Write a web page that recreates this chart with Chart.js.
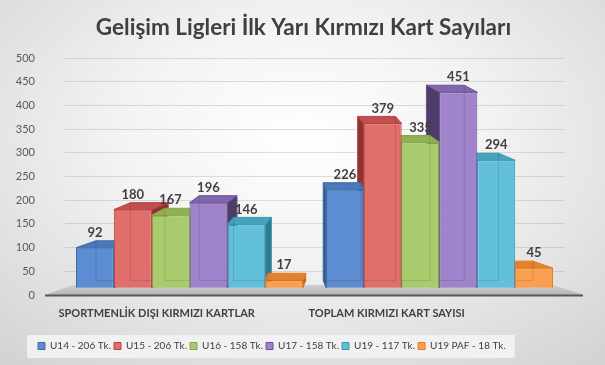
<!DOCTYPE html>
<html>
<head>
<meta charset="utf-8">
<title>Gelişim Ligleri İlk Yarı Kırmızı Kart Sayıları</title>
<script src="https://cdn.jsdelivr.net/npm/chart.js@4.4.1/dist/chart.umd.min.js"></script>
<style>
    html, body { margin: 0; padding: 0; }
    body {
        width: 605px;
        height: 365px;
        overflow: hidden;
        background: radial-gradient(ellipse 75% 80% at 50% 38%, #ffffff 0%, #f3f3f3 40%, #d3d3d3 100%);
    }
    #wrap { position: relative; width: 605px; height: 365px; }
</style>
</head>
<body>
<div id="wrap"><canvas id="redCardChart" width="605" height="365"></canvas></div>
<script>
// kategoriler ve seriler
const categories = ['SPORTMENLİK DIŞI KIRMIZI KARTLAR', 'TOPLAM KIRMIZI KART SAYISI'];
const seriesNames = ['U14 - 206 Tk.', 'U15 - 206 Tk.', 'U16 - 158 Tk.', 'U17 - 158 Tk.', 'U19 - 117 Tk.', 'U19 PAF - 18 Tk.'];
const u14 = [92, 226];
const u15 = [180, 379];
const u16 = [167, 335];
const u17 = [196, 451];
const u19 = [146, 294];
const u19paf = [17, 45];
const yTickMax = 500;
const yTickStep = 50;

// renkler: on yuz, ust yuz, yan yuz, kenar
const frontColors = ['#5c8dd2', '#e06f6c', '#a9cb6e', '#9f84cc', '#62c0da', '#fa9e50'];
const topColors = ['#4a78bb', '#c0504d', '#8fb153', '#8266b2', '#46a3be', '#e4812f'];
const sideColors = ['#37598c', '#8a3331', '#6d8a3b', '#4c3d68', '#307a8f', '#b5621f'];
const edgeColors = ['#3e6aa8', '#b9413e', '#86a84a', '#6a5290', '#3a98b3', '#e57a1e'];

const seriesValues = [u14, u15, u16, u17, u19, u19paf];
const textColor = '#404040';
const depthY = -7;

// y ekseni etiketleri sag kenari ~x=35'te olsun (mirror ile kirpilmadan)
const tickFont = '11px Lato';
const measure = document.createElement('canvas').getContext('2d');
measure.font = tickFont;
const widestTick = measure.measureText(String(yTickMax)).width;

function depthX(chart, x) {
    const area = chart.chartArea;
    const vx = (area.left + area.right) / 2;
    return (vx - x) * 0.091;
}

// zemin + 3B yan ve ust yuzler (on yuzler Chart.js cubuklari)
const bar3dPlugin = {
    id: 'bar3d',
    beforeDraw: chart => {
        const lg = chart.legend;
        if (!lg || !lg.legendHitBoxes || !lg.legendHitBoxes.length) return;
        const boxes = lg.legendHitBoxes;
        const first = boxes[0];
        const last = boxes[boxes.length - 1];
        const cy = first.top + first.height / 2;
        const ctx = chart.ctx;
        ctx.save();
        ctx.fillStyle = 'rgba(243,243,243,0.9)';
        ctx.fillRect(first.left - 11, cy - 11, (last.left + last.width + 9) - (first.left - 11), 23);
        ctx.restore();
    },
    beforeDatasetsDraw: chart => {
        const ctx = chart.ctx;
        const area = chart.chartArea;
        const front = chart.scales.yTicks.getPixelForValue(0);

        ctx.save();
        const floorGrad = ctx.createLinearGradient(0, front - 10, 0, front);
        floorGrad.addColorStop(0, '#cfcfcf');
        floorGrad.addColorStop(1, '#b4b4b4');
        ctx.beginPath();
        ctx.moveTo(area.left - 19.5, front);
        ctx.lineTo(area.right + 18.5, front);
        ctx.lineTo(area.right - 11.5, front - 10);
        ctx.lineTo(area.left + 8, front - 10);
        ctx.closePath();
        ctx.fillStyle = floorGrad;
        ctx.fill();
        ctx.beginPath();
        ctx.moveTo(area.left - 19.5, front + 0.5);
        ctx.lineTo(area.right + 18.5, front + 0.5);
        ctx.strokeStyle = '#595959';
        ctx.lineWidth = 2;
        ctx.stroke();

        const bars = [];
        chart.data.datasets.forEach((ds, i) => {
            const meta = chart.getDatasetMeta(i);
            meta.data.forEach(bar => {
                bars.push({ i, x: bar.x, y: bar.y, base: bar.base, w: bar.width, dx: depthX(chart, bar.x) });
            });
        });
        // merkezden uzak olanlar once
        bars.sort((a, b) => Math.abs(b.dx) - Math.abs(a.dx));

        bars.forEach(b => {
            const l = b.x - b.w / 2;
            const r = b.x + b.w / 2;
            const sx = b.dx > 0 ? r : l;
            ctx.beginPath();
            ctx.moveTo(sx, b.y);
            ctx.lineTo(sx + b.dx, b.y + depthY);
            ctx.lineTo(sx + b.dx, b.base + depthY);
            ctx.lineTo(sx, b.base);
            ctx.closePath();
            ctx.fillStyle = sideColors[b.i];
            ctx.fill();
            ctx.strokeStyle = edgeColors[b.i];
            ctx.lineWidth = 1;
            ctx.stroke();

            ctx.beginPath();
            ctx.moveTo(l, b.y);
            ctx.lineTo(r, b.y);
            ctx.lineTo(r + b.dx, b.y + depthY);
            ctx.lineTo(l + b.dx, b.y + depthY);
            ctx.closePath();
            ctx.fillStyle = topColors[b.i];
            ctx.fill();
            ctx.stroke();
        });
        ctx.restore();
    },
    afterDatasetsDraw: chart => {
        const ctx = chart.ctx;
        ctx.save();
        chart.data.datasets.forEach((ds, i) => {
            const meta = chart.getDatasetMeta(i);
            meta.data.forEach((bar, j) => {
                const dx = depthX(chart, bar.x);
                const bx = dx > 0 ? bar.x - bar.width / 2 + dx : bar.x + bar.width / 2 + dx;
                // arka kenar (yari saydam gorunum)
                ctx.beginPath();
                ctx.moveTo(bx, bar.y + depthY);
                ctx.lineTo(bx, bar.base + depthY);
                ctx.lineTo(dx > 0 ? bar.x + bar.width / 2 : bar.x - bar.width / 2, bar.base + depthY);
                ctx.strokeStyle = 'rgba(0,0,0,0.12)';
                ctx.lineWidth = 1;
                ctx.stroke();

                ctx.font = 'bold 13px Lato';
                ctx.fillStyle = textColor;
                ctx.textAlign = 'center';
                ctx.textBaseline = 'middle';
                ctx.fillText(String(ds.data[j]), bar.x, bar.y - 15);
            });
        });
        ctx.restore();
    }
};

const datasets = seriesNames.map((name, i) => ({
    label: name,
    data: seriesValues[i],
    yAxisID: 'y',
    backgroundColor: frontColors[i],
    borderColor: edgeColors[i],
    borderWidth: 1,
    categoryPercentage: 0.908,
    barPercentage: 1.0
}));

const ctx = document.getElementById('redCardChart').getContext('2d');

new Chart(ctx, {
    type: 'bar',
    data: { labels: categories, datasets },
    options: {
        responsive: false,
        animation: false,
        layout: { padding: { left: 35, right: 33, top: 0, bottom: 4 } },
        plugins: {
            title: {
                display: true,
                text: 'Gelişim Ligleri İlk Yarı Kırmızı Kart Sayıları',
                color: textColor,
                font: { family: 'Lato', size: 22.5, weight: 'bold', lineHeight: 1.2 },
                padding: { top: 14, bottom: 17 }
            },
            legend: {
                position: 'bottom',
                align: 'start',
                labels: {
                    boxWidth: 7,
                    boxHeight: 7,
                    padding: 3,
                    color: textColor,
                    font: { family: 'Lato', size: 10 },
                    generateLabels: chart => chart.data.datasets.map((ds, i) => ({
                        text: ds.label,
                        fillStyle: frontColors[i],
                        strokeStyle: edgeColors[i],
                        lineWidth: 1,
                        fontColor: textColor,
                        hidden: false,
                        datasetIndex: i
                    }))
                }
            },
            tooltip: { enabled: false }
        },
        scales: {
            x: {
                grid: { display: false, drawTicks: false },
                border: { display: false },
                ticks: {
                    color: textColor,
                    font: { family: 'Lato', size: 11, weight: 'bold' },
                    padding: 12,
                    align: 'start',
                    labelOffset: -131,
                    maxRotation: 0,
                    autoSkip: false
                },
                afterFit: s => {
                    s.height = 43;
                    s.paddingLeft = 0;
                    s.paddingRight = 0;
                }
            },
            yTicks: {
                position: 'left',
                min: 0,
                max: yTickMax,
                ticks: {
                    stepSize: yTickStep,
                    mirror: true,
                    crossAlign: 'far',
                    padding: -29.5 - widestTick,
                    color: '#595959',
                    font: { family: 'Lato', size: 11 }
                },
                grid: { color: 'rgba(150,150,150,0.3)', drawTicks: false },
                border: { display: false },
                afterFit: s => { s.width = 29.5; }
            },
            y: {
                display: false,
                min: -17,
                max: 530
            },
            yRight: {
                position: 'right',
                ticks: { display: false },
                grid: { display: false },
                border: { display: false },
                afterFit: s => { s.width = 7.5; }
            }
        }
    },
    plugins: [bar3dPlugin]
});
</script>
</body>
</html>
